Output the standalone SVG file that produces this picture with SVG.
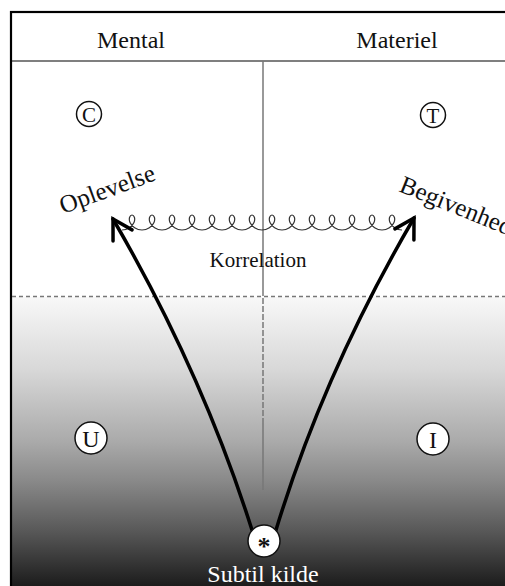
<svg xmlns="http://www.w3.org/2000/svg" width="505" height="586" viewBox="0 0 505 586">
<defs>
<linearGradient id="bg" x1="0" y1="297" x2="0" y2="586" gradientUnits="userSpaceOnUse">
<stop offset="0" stop-color="#f8f8f8"/>
<stop offset="0.25" stop-color="#d8d8d8"/>
<stop offset="0.5" stop-color="#aaaaaa"/>
<stop offset="0.64" stop-color="#888888"/>
<stop offset="0.81" stop-color="#585858"/>
<stop offset="1" stop-color="#1c1c1c"/>
</linearGradient>
<marker id="head" markerUnits="userSpaceOnUse" markerWidth="40" markerHeight="40" refX="0" refY="0" viewBox="-25 -20 30 40" orient="auto" overflow="visible">
<path d="M-19,-11 L0,0 L-19,11" fill="none" stroke="#000" stroke-width="3.5" stroke-linecap="round" stroke-linejoin="miter"/>
</marker>
<style>
.t{font-family:"Liberation Serif","Times New Roman",serif;fill:#111;}
.node circle{fill:#fff;stroke:#111;stroke-width:1.5;}
.grid{stroke:#777;stroke-width:1.5;fill:none;}
.arrow{fill:none;stroke:#000;stroke-width:3.5;stroke-linecap:round;marker-end:url(#head);}
</style>
</defs>
<rect x="0" y="0" width="505" height="586" fill="#fff"/>
<rect x="12" y="297" width="493" height="289" fill="url(#bg)"/>
<g id="frame">
<rect x="11" y="12" width="520" height="600" fill="none" stroke="#000" stroke-width="2.2"/>
<line x1="11" y1="61" x2="505" y2="61" stroke="#000" stroke-width="1.2"/>
<line class="grid" x1="263" y1="61" x2="263" y2="296"/>
<line class="grid" x1="263" y1="298" x2="263" y2="418" stroke-dasharray="6,2"/>
<line class="grid" x1="263" y1="418" x2="263" y2="490"/>
<line class="grid" x1="12" y1="296.5" x2="505" y2="296.5" stroke-dasharray="4,3"/>
</g>
<g id="headers">
<text class="t" x="131" y="48" font-size="24" text-anchor="middle">Mental</text>
<text class="t" x="397" y="48" font-size="24" text-anchor="middle">Materiel</text>
</g>
<g id="connectors">
<path d="M122,230 c5.33,0 10.33,-3.57 12,-7.5 c1.67,-3.93 0,-7.5 -2,-7.5 c-2,0 -3.670,3.57 -2,7.5 c1.67,3.93 6.67,7.5 12,7.5 c5.33,0 10.33,-3.57 12,-7.5 c1.67,-3.93 0,-7.5 -2,-7.5 c-2,0 -3.67,3.57 -2,7.5 c1.67,3.93 6.67,7.5 12,7.5 c5.33,0 10.33,-3.57 12,-7.5 c1.67,-3.93 0,-7.5 -2,-7.5 c-2,0 -3.67,3.57 -2,7.5 c1.67,3.93 6.67,7.5 12,7.5 c5.33,0 10.33,-3.57 12,-7.5 c1.67,-3.93 0,-7.5 -2,-7.5 c-2,0 -3.67,3.57 -2,7.5 c1.67,3.93 6.67,7.5 12,7.5 c5.33,0 10.33,-3.57 12,-7.5 c1.67,-3.93 0,-7.5 -2,-7.5 c-2,0 -3.67,3.57 -2,7.5 c1.67,3.93 6.67,7.5 12,7.5 c5.33,0 10.33,-3.57 12,-7.5 c1.67,-3.93 0,-7.5 -2,-7.5 c-2,0 -3.67,3.57 -2,7.5 c1.67,3.93 6.67,7.5 12,7.5 c5.33,0 10.33,-3.57 12,-7.5 c1.67,-3.93 0,-7.5 -2,-7.5 c-2,0 -3.67,3.57 -2,7.5 c1.67,3.93 6.67,7.5 12,7.5 c5.33,0 10.33,-3.57 12,-7.5 c1.67,-3.93 0,-7.5 -2,-7.5 c-2,0 -3.67,3.57 -2,7.5 c1.67,3.93 6.67,7.5 12,7.5 c5.33,0 10.33,-3.57 12,-7.5 c1.67,-3.93 0,-7.5 -2,-7.5 c-2,0 -3.67,3.57 -2,7.5 c1.67,3.93 6.67,7.5 12,7.5 c5.33,0 10.33,-3.57 12,-7.5 c1.67,-3.93 0,-7.5 -2,-7.5 c-2,0 -3.67,3.57 -2,7.5 c1.67,3.93 6.67,7.5 12,7.5 c5.33,0 10.33,-3.57 12,-7.5 c1.67,-3.93 0,-7.5 -2,-7.5 c-2,0 -3.67,3.57 -2,7.5 c1.67,3.93 6.67,7.5 12,7.5 c5.33,0 10.33,-3.57 12,-7.5 c1.67,-3.93 0,-7.5 -2,-7.5 c-2,0 -3.67,3.57 -2,7.5 c1.67,3.93 6.67,7.5 12,7.5 c5.33,0 10.33,-3.57 12,-7.5 c1.67,-3.93 0,-7.5 -2,-7.5 c-2,0 -3.67,3.57 -2,7.5 c1.67,3.93 6.67,7.5 12,7.5 c5.33,0 10.33,-3.57 12,-7.5 c1.67,-3.93 0,-7.5 -2,-7.5 c-2,0 -3.67,3.57 -2,7.5 c1.67,3.93 6.67,7.5 12,7.5" fill="none" stroke="#333" stroke-width="1.2"/>
<path class="arrow" d="M252,530 Q202,372 113,219"/>
<path class="arrow" d="M276,530 Q324,372 414,218"/>
</g>
<text class="t" x="258" y="267" font-size="21" text-anchor="middle">Korrelation</text>
<text class="t" x="0" y="0" font-size="25" transform="translate(63,214) rotate(-20)">Oplevelse</text>
<text class="t" x="0" y="0" font-size="25" transform="translate(398,191) rotate(22)">Begivenhed</text>
<g id="node-C" class="node"><circle cx="89" cy="114" r="12.5"/><text class="t" x="89" y="121.5" font-size="21" text-anchor="middle">C</text></g>
<g id="node-T" class="node"><circle cx="433" cy="115" r="12.5"/><text class="t" x="433" y="122.5" font-size="21" text-anchor="middle">T</text></g>
<g id="node-U" class="node"><circle cx="91" cy="438" r="16"/><text class="t" x="91" y="446.5" font-size="24" text-anchor="middle">U</text></g>
<g id="node-I" class="node"><circle cx="433" cy="439" r="16"/><text class="t" x="433" y="447.5" font-size="24" text-anchor="middle">I</text></g>
<g id="node-source" class="node"><circle cx="264" cy="541" r="16"/><text class="t" x="264" y="555" font-size="26" font-weight="bold" text-anchor="middle">*</text></g>
<text x="263" y="582" font-size="24" text-anchor="middle" style="font-family:'Liberation Serif','Times New Roman',serif;fill:#fff;">Subtil kilde</text>
</svg>
